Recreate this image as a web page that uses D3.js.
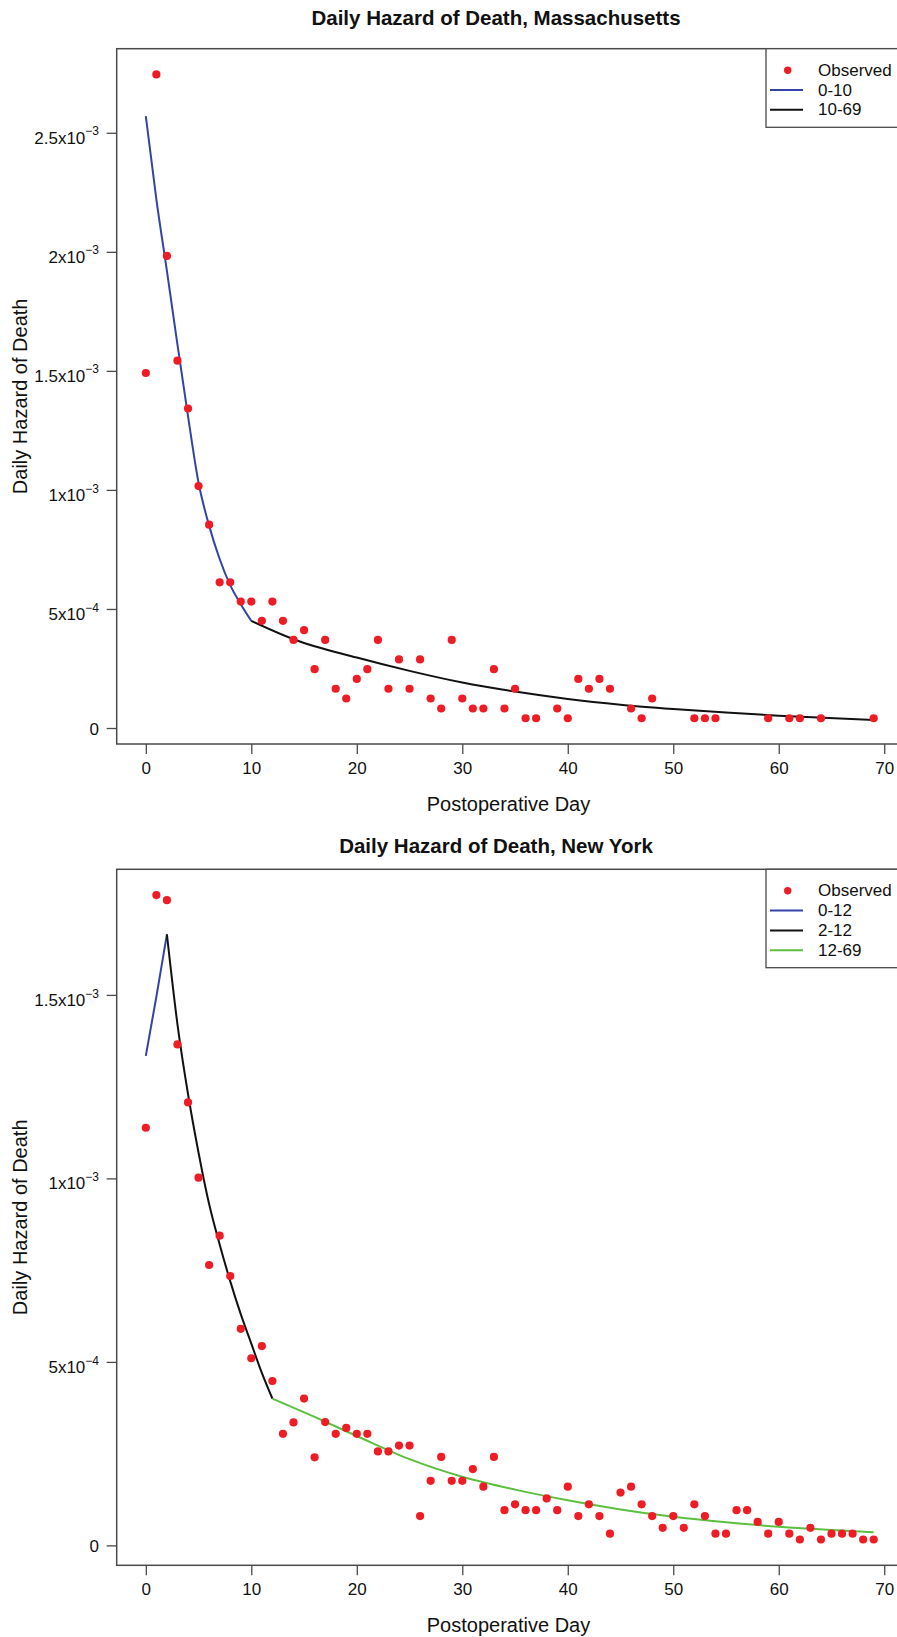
<!DOCTYPE html>
<html><head><meta charset="utf-8">
<script src="https://cdn.jsdelivr.net/npm/d3@7"></script>
<style>
body{margin:0;background:#fff}
svg{display:block}
text{font-family:"Liberation Sans",Arial,Helvetica,sans-serif;fill:#111}
</style>
</head><body><svg id="c" width="897" height="1637"></svg>
<script>
// ---------- DATA (hazard values in units of 10^-3) ----------
const xTickValues = [0, 10, 20, 30, 40, 50, 60, 70];

// Massachusetts
const maTitle = "Daily Hazard of Death, Massachusetts";
const maDays = [0,1,2,3,4,5,6,7,8,9,10,11,12,13,14,15,16,17,18,19,20,21,22,23,24,25,26,27,28,29,30,31,32,33,34,35,36,37,39,40,41,42,43,44,46,47,48,52,53,54,59,61,62,64,69];
const maObserved = [1.491,2.745,1.983,1.543,1.342,1.016,0.854,0.612,0.612,0.531,0.531,0.450,0.531,0.450,0.370,0.411,0.247,0.370,0.165,0.124,0.206,0.247,0.370,0.165,0.288,0.165,0.288,0.124,0.082,0.370,0.124,0.082,0.082,0.247,0.082,0.165,0.041,0.041,0.082,0.041,0.206,0.165,0.206,0.165,0.082,0.041,0.124,0.041,0.041,0.041,0.041,0.041,0.041,0.041,0.041];
const maFitADays = [0,1,2,3,4,5,6,7,8,9,10];
const maFitA = [2.57,2.22,1.92,1.61,1.31,1.03,0.85,0.71,0.60,0.52,0.45];
const maFitBDays = [10,14,20,25,30,35,40,45,50,55,60,69];
const maFitB = [0.45,0.373,0.296,0.240,0.191,0.153,0.122,0.098,0.080,0.065,0.052,0.034];
const maLegend = ["Observed","0-10","10-69"];
const maYTicks = [0, 0.5, 1, 1.5, 2, 2.5];
const maYTickBase = ["0","5x10","1x10","1.5x10","2x10","2.5x10"];
const maYTickExp  = ["","\u22124","\u22123","\u22123","\u22123","\u22123"];

// New York
const nyTitle = "Daily Hazard of Death, New York";
const nyDays = [0,1,2,3,4,5,6,7,8,9,10,11,12,13,14,15,16,17,18,19,20,21,22,23,24,25,26,27,28,29,30,31,32,33,34,35,36,37,38,39,40,41,42,43,44,45,46,47,48,49,50,51,52,53,54,55,56,57,58,59,60,61,62,63,64,65,66,67,68,69];
const nyObserved = [1.138,1.772,1.758,1.365,1.207,1.002,0.764,0.844,0.734,0.590,0.510,0.543,0.448,0.304,0.335,0.400,0.240,0.336,0.304,0.320,0.304,0.304,0.256,0.256,0.272,0.272,0.080,0.176,0.241,0.176,0.176,0.208,0.160,0.241,0.096,0.112,0.096,0.096,0.128,0.096,0.160,0.080,0.112,0.080,0.032,0.144,0.160,0.112,0.080,0.048,0.080,0.048,0.112,0.080,0.032,0.032,0.096,0.096,0.064,0.032,0.064,0.032,0.016,0.048,0.016,0.032,0.032,0.032,0.016,0.016];
const nyFitADays = [0,1,2];
const nyFitA = [1.334,1.495,1.665];
const nyFitBDays = [2,3,4,5,6,7,8,9,10,11,12];
const nyFitB = [1.665,1.42,1.23,1.07,0.93,0.82,0.72,0.63,0.55,0.47,0.40];
const nyFitCDays = [12,16,20,25,30,35,40,45,50,55,60,65,69];
const nyFitC = [0.40,0.35,0.298,0.235,0.187,0.152,0.123,0.098,0.078,0.063,0.051,0.042,0.036];
const nyLegend = ["Observed","0-12","2-12","12-69"];
const nyYTicks = [0, 0.5, 1, 1.5];
const nyYTickBase = ["0","5x10","1x10","1.5x10"];
const nyYTickExp  = ["","\u22124","\u22123","\u22123"];

// ---------- STYLE ----------
const RED = "#ee1c24", BLUE = "#3344a6", BLACK = "#111111", GREEN = "#5cbf3f", FRAME = "#4a4a4a";
const svg = d3.select("#c");

function padded(ext){ const p = 0.04*(ext[1]-ext[0]); return [ext[0]-p, ext[1]+p]; }

function panel(opt){
  const g = svg.append("g");
  const x = d3.scaleLinear().domain(padded(d3.extent(opt.days))).range([116.7, 902.8]);
  const y = d3.scaleLinear().domain(padded(d3.extent(opt.obs))).range([opt.bottom, opt.top]);

  // title
  g.append("text").attr("x", 496).attr("y", opt.titleY)
    .attr("text-anchor","middle").attr("dominant-baseline","central")
    .style("font-size","20.5px").style("font-weight","bold").text(opt.title);

  // x axis
  const xa = g.append("g").attr("transform",`translate(0,${opt.bottom})`)
    .call(d3.axisBottom(x).tickValues(xTickValues).tickSize(10).tickPadding(8).tickSizeOuter(0));
  xa.select(".domain").remove();
  xa.selectAll("line").attr("stroke",FRAME).attr("stroke-width",1.3);
  xa.selectAll("text").style("font-size","17px").attr("fill","#111").style("font-family","'Liberation Sans',Arial,sans-serif");

  // y axis
  const ya = g.append("g").attr("transform","translate(116.7,0)")
    .call(d3.axisLeft(y).tickValues(opt.yTicks).tickSize(10).tickPadding(8).tickFormat(()=>""));
  ya.select(".domain").remove();
  ya.selectAll("line").attr("stroke",FRAME).attr("stroke-width",1.3);
  ya.selectAll(".tick").each(function(d,i){
    const t = d3.select(this).select("text").text(null)
      .attr("x",-17.7).attr("dy", null)
      .attr("text-anchor","end").style("font-size","17px").style("font-family","'Liberation Sans',Arial,sans-serif");
    if (opt.yExp[i]) {
      t.attr("y", 10.3);
      t.append("tspan").text(opt.yBase[i]);
      t.append("tspan").attr("dy",-8.2).style("font-size","12px").text(opt.yExp[i]);
    } else {
      t.attr("y", 6.5).text(opt.yBase[i]);
    }
  });

  // axis titles
  g.append("text").attr("x", 508.5).attr("y", opt.bottom + 60)
    .attr("text-anchor","middle").attr("dominant-baseline","central")
    .style("font-size","20px").text("Postoperative Day");
  g.append("text").attr("transform",`translate(20,${(opt.top+opt.bottom)/2}) rotate(-90)`)
    .attr("text-anchor","middle").attr("dominant-baseline","central")
    .style("font-size","20px").text("Daily Hazard of Death");

  // fitted lines
  const line = d3.line().x(d=>x(d[0])).y(d=>y(d[1])).curve(d3.curveMonotoneX);
  opt.fits.forEach(f=>{
    g.append("path").datum(d3.zip(f.days, f.vals)).attr("d", line)
      .attr("fill","none").attr("stroke", f.color).attr("stroke-width", 2);
  });

  // observed points
  g.append("g").selectAll("circle").data(d3.zip(opt.days, opt.obs)).join("circle")
    .attr("cx", d=>x(d[0])).attr("cy", d=>y(d[1])).attr("r", 4.1).attr("fill", RED);

  // frame
  g.append("rect").attr("x",116.7).attr("y",opt.top).attr("width",786).attr("height",opt.bottom-opt.top)
    .attr("fill","none").attr("stroke",FRAME).attr("stroke-width",1.5);

  // legend
  const lx = 766, ly = opt.top, rowH = 19.8;
  const n = opt.legend.length;
  const lh = 21.5 + (n-1)*rowH + 17.5;
  const lg = g.append("g");
  lg.append("rect").attr("x",lx).attr("y",ly).attr("width",160).attr("height",lh)
    .attr("fill","#fff").attr("stroke",FRAME).attr("stroke-width",1.3);
  const colors = [null].concat(opt.fits.map(f=>f.color));
  opt.legend.forEach((lab,i)=>{
    const yy = ly + 21.5 + i*rowH;
    if (i===0) lg.append("circle").attr("cx",787.7).attr("cy",yy).attr("r",3.7).attr("fill",RED);
    else lg.append("line").attr("x1",770).attr("x2",803).attr("y1",yy).attr("y2",yy)
      .attr("stroke",colors[i]).attr("stroke-width",2);
    lg.append("text").attr("x",818).attr("y",yy).attr("dominant-baseline","central")
      .style("font-size","17px").text(lab);
  });
}

panel({title: maTitle, titleY: 17.5, top: 48.7, bottom: 744,
  days: maDays, obs: maObserved, yTicks: maYTicks, yBase: maYTickBase, yExp: maYTickExp,
  fits: [{days: maFitADays, vals: maFitA, color: BLUE},{days: maFitBDays, vals: maFitB, color: BLACK}],
  legend: maLegend});

panel({title: nyTitle, titleY: 845, top: 869.3, bottom: 1565.3,
  days: nyDays, obs: nyObserved, yTicks: nyYTicks, yBase: nyYTickBase, yExp: nyYTickExp,
  fits: [{days: nyFitADays, vals: nyFitA, color: BLUE},{days: nyFitBDays, vals: nyFitB, color: BLACK},{days: nyFitCDays, vals: nyFitC, color: GREEN}],
  legend: nyLegend});
</script></body></html>
